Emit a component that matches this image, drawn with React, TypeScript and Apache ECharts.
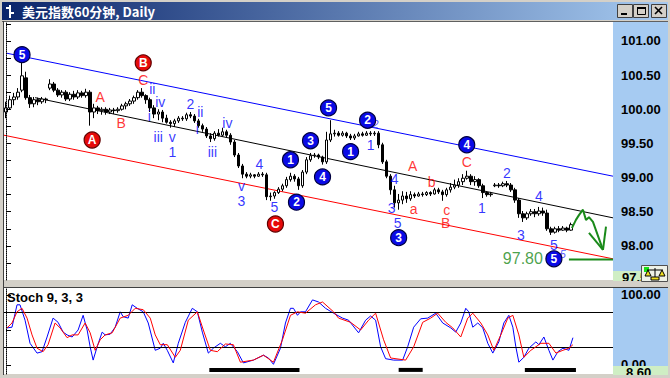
import React, { useEffect, useRef } from 'react';
import * as echarts from 'echarts';

const FONT = "'Liberation Sans', Arial, sans-serif";
const CJK = "'Noto Sans CJK SC', 'Liberation Sans', sans-serif";

// bar slots on the time axis (the right part is left empty for the projection)
const BAR_SLOTS = 152;
const slotLabels = Array.from({ length: BAR_SLOTS }, (_, i) => `${i}`);

// hourly bars: [open, close, low, high]
const ohlc: number[][] = [
  [99.96,100.02,99.87,100.11],[100.02,100.14,99.99,100.20],[100.14,100.18,100.06,100.24],[100.18,100.25,100.14,100.31],
  [100.28,100.49,100.25,100.68],[100.46,100.17,100.14,100.55],[100.17,100.08,100.02,100.21],[100.08,100.14,100.03,100.18],
  [100.14,100.11,100.06,100.17],[100.11,100.15,100.08,100.18],[100.15,100.14,100.09,100.17],[100.31,100.37,100.28,100.44],
  [100.37,100.28,100.25,100.40],[100.28,100.21,100.18,100.31],[100.21,100.25,100.17,100.28],[100.25,100.15,100.12,100.28],
  [100.15,100.22,100.12,100.25],[100.22,100.18,100.14,100.27],[100.18,100.24,100.15,100.28],[100.24,100.20,100.17,100.27],
  [100.20,100.25,100.17,100.30],[100.25,99.96,99.76,100.28],[99.96,100.02,99.87,100.08],[100.02,99.98,99.93,100.05],
  [99.98,100.00,99.92,100.03],[100.00,99.96,99.92,100.03],[99.96,99.99,99.93,100.02],[99.99,99.98,99.93,100.02],
  [99.98,100.00,99.95,100.03],[100.00,100.05,99.98,100.08],[100.05,100.08,100.00,100.11],[100.08,100.12,100.05,100.15],
  [100.12,100.17,100.08,100.20],[100.17,100.25,100.14,100.28],[100.25,100.20,100.17,100.31],[100.20,100.14,100.08,100.22],
  [100.14,100.02,99.96,100.17],[100.02,99.93,99.87,100.06],[99.93,99.96,99.84,100.00],[99.96,99.87,99.81,99.99],
  [99.87,99.81,99.79,99.92],[99.81,99.79,99.73,99.84],[99.79,99.83,99.74,99.86],[99.83,99.87,99.80,99.90],
  [99.87,99.86,99.83,99.90],[99.86,99.92,99.83,99.95],[99.92,99.90,99.87,99.96],[99.90,99.83,99.80,99.93],
  [99.83,99.76,99.73,99.86],[99.76,99.71,99.67,99.79],[99.71,99.61,99.58,99.74],[99.61,99.57,99.52,99.65],
  [99.57,99.65,99.54,99.68],[99.65,99.62,99.60,99.71],[99.62,99.67,99.60,99.73],[99.67,99.62,99.58,99.70],
  [99.62,99.52,99.48,99.65],[99.52,99.33,99.30,99.55],[99.33,99.17,99.14,99.36],[99.17,99.05,98.99,99.20],
  [99.05,99.02,98.99,99.08],[99.02,99.04,98.99,99.07],[99.04,99.02,98.99,99.05],[99.02,99.05,99.01,99.08],
  [99.05,99.04,99.01,99.08],[99.04,98.72,98.67,99.07],[98.72,98.73,98.66,98.78],[98.73,98.78,98.69,98.80],
  [98.78,98.83,98.76,98.86],[98.83,98.88,98.80,98.91],[98.88,98.97,98.85,99.01],[98.97,99.02,98.94,99.07],
  [99.02,98.98,98.94,99.05],[98.98,98.88,98.82,99.01],[98.88,99.08,98.85,99.11],[99.08,99.26,99.05,99.30],
  [99.26,99.32,99.23,99.36],[99.32,99.33,99.29,99.36],[99.33,99.30,99.27,99.35],[99.30,99.23,99.19,99.32],
  [99.23,99.55,99.20,99.67],[99.55,99.64,99.52,99.84],[99.64,99.65,99.60,99.70],[99.65,99.62,99.60,99.68],
  [99.62,99.65,99.60,99.68],[99.65,99.61,99.58,99.67],[99.61,99.58,99.55,99.64],[99.58,99.61,99.55,99.64],
  [99.61,99.64,99.60,99.67],[99.64,99.62,99.60,99.67],[99.62,99.65,99.61,99.68],[99.65,99.64,99.61,99.68],
  [99.64,99.65,99.61,99.68],[99.65,99.48,99.43,99.68],[99.48,99.23,99.20,99.51],[99.23,99.02,98.99,99.26],
  [99.02,98.82,98.75,99.05],[98.82,98.63,98.56,98.88],[98.63,98.67,98.53,98.76],[98.67,98.73,98.61,98.80],
  [98.73,98.69,98.63,98.79],[98.69,98.75,98.66,98.80],[98.75,98.73,98.70,98.78],[98.73,98.76,98.72,98.79],
  [98.76,98.75,98.72,98.79],[98.75,98.78,98.73,98.80],[98.78,98.76,98.73,98.80],[98.76,98.82,98.75,98.85],
  [98.82,98.79,98.76,98.85],[98.79,98.75,98.66,98.82],[98.75,98.82,98.72,98.85],[98.82,98.86,98.78,98.92],
  [98.86,98.89,98.83,98.97],[98.89,98.94,98.85,98.99],[98.94,98.99,98.89,99.05],[98.99,99.02,98.97,99.10],
  [99.02,98.94,98.89,99.05],[98.94,98.97,98.88,99.02],[98.97,98.88,98.85,98.99],[98.88,98.78,98.70,98.91],
  [98.78,98.75,98.72,98.80],[98.75,98.76,98.72,98.79],[98.88,98.89,98.86,98.92],[98.89,98.88,98.85,98.92],
  [98.88,98.91,98.86,98.94],[98.91,98.89,98.86,98.95],[98.89,98.82,98.79,98.92],[98.82,98.67,98.63,98.85],
  [98.67,98.47,98.41,98.70],[98.47,98.41,98.35,98.51],[98.41,98.47,98.38,98.50],[98.47,98.50,98.44,98.54],
  [98.50,98.47,98.42,98.54],[98.47,98.51,98.44,98.57],[98.51,98.48,98.44,98.56],[98.48,98.25,98.22,98.53],
  [98.25,98.20,98.16,98.28],[98.20,98.25,98.18,98.28],[98.25,98.23,98.20,98.29],[98.23,98.26,98.22,98.29],
  [98.26,98.23,98.20,98.28],[98.23,98.31,98.22,98.34],
];

// channel lines [barIndex, price]
const upperChannel = [[0.25, 100.82], [151.5, 99.02]];
const middleChannel = [[7.25, 100.17], [151.5, 98.41]];
const lowerChannel = [[-0.5, 99.62], [151.5, 97.81]];

// projected path and target
const projection = [[141.25, 98.26], [142.25, 98.38], [143, 98.45], [144, 98.53], [144.75, 98.38], [145.5, 98.42], [146.5, 98.35], [149, 97.94]];
const arrowLeft = [[145.5, 98.19], [149, 97.94]];
const arrowRight = [[149.75, 98.28], [149, 97.94]];
const targetPrice = 97.8;
const targetSpan = [140.5, 151.5];

// wave annotations [barIndex, price, text]
const blueCircles: [number, number, string][] = [
  [4, 100.8, '5'], [80.5, 100.02, '5'], [76, 99.54, '3'], [90.25, 99.84, '2'], [86, 99.38, '1'],
  [79, 99.01, '4'], [71, 99.26, '1'], [72.5, 98.64, '2'], [115, 99.48, '4'], [98, 98.12, '3'], [136.75, 97.81, '5'],
];
const redCircles: [number, number, string][] = [
  [34.25, 100.68, 'B'], [21.5, 99.55, 'A'], [67.25, 98.32, 'C'],
];
const blueTexts: [number, number, string][] = [
  [36.5, 100.3, 'ii'], [38.5, 100.11, 'iv'], [35.75, 99.9, 'i'], [38, 99.59, 'iii'], [41.5, 99.59, 'v'],
  [41.5, 99.38, '1'], [46, 100.08, '2'], [48.5, 99.96, 'ii'], [47.75, 99.71, 'i'], [51.5, 99.38, 'iii'],
  [55.25, 99.8, 'iv'], [63.25, 99.2, '4'], [58.75, 98.87, 'v'], [58.75, 98.65, '3'], [67, 98.57, '5'],
  [91, 99.48, '1'], [97, 98.98, '4'], [96.25, 98.56, '3'], [97.75, 98.34, '5'], [125, 99.07, '2'],
  [118.75, 98.56, '1'], [133, 98.73, '4'], [128.5, 98.16, '3'], [136.75, 98.01, '5'],
];
const blueSmallTexts: [number, number, string][] = [[92.25, 99.79, '2'], [139, 97.88, '5']];
const redTexts: [number, number, string][] = [
  [34.25, 100.43, 'C'], [23.5, 100.18, 'A'], [28.75, 99.8, 'B'], [101.5, 99.17, 'A'], [106.25, 98.94, 'b'],
  [101.75, 98.54, 'a'], [110, 98.52, 'c'], [109.75, 98.33, 'B'], [115, 99.23, 'C'],
];
const targetLabel: [number, number, string][] = [[129, 97.82, '97.80']];

// price axis
const priceMin = 97.5;
const priceMax = 101.278;
const priceLabels = [98, 98.5, 99, 99.5, 100, 100.5, 101];
const priceTicks = [97.75, 98, 98.25, 98.5, 98.75, 99, 99.25, 99.5, 99.75, 100, 100.25, 100.5, 100.75, 101, 101.25];

// Stoch 9,3,3  [barIndex, value]
const stochK = [
  [0.25,53],[1.5,54],[2.75,86],[3.5,86],[4.75,64],[6,31],[7.75,17],[9,19],[10.25,40],[11.75,67],[13,61],[14.25,47],
  [15.25,43],[16.5,40],[18,50],[19.25,71],[20.25,50],[21,26],[21.75,7],[22.75,26],[24,47],[24.75,43],[26,44],
  [27.25,54],[28.5,76],[29.25,69],[30.5,67],[31.5,86],[32.75,81],[34.25,76],[35.5,60],[37.25,21],[38.5,24],
  [39.25,31],[40.25,21],[41.75,3],[43,31],[44.75,61],[46.5,81],[47.75,76],[49,47],[50.5,17],[51.75,24],[53.5,31],
  [54.75,26],[56,31],[57.75,19],[59.25,3],[61.75,7],[64.25,14],[65.5,10],[66.75,1],[68.5,24],[69.75,60],[71,81],
  [71.75,81],[72.75,71],[73.5,76],[74.75,76],[76.5,93],[78,90],[79.75,81],[81.75,74],[84,67],[85.5,64],[88,46],
  [89.75,64],[91,70],[92.25,64],[93.5,26],[94.75,9],[96.75,7],[99,7],[100.25,26],[101.75,54],[103.5,66],[105.25,67],
  [107.25,74],[109,60],[111,53],[112.25,47],[113.5,60],[114.75,81],[115.5,76],[116.5,54],[117.75,60],[119,53],
  [120.25,31],[121.5,17],[123,33],[124.25,60],[125.5,71],[126.5,54],[127.25,26],[128,4],[129.25,11],[130.5,24],
  [132.25,33],[133,29],[134.25,40],[135.5,21],[136.5,7],[137.75,19],[139,24],[140.5,21],[141.5,39],
];
const stochD = [
  [0.25,53],[1.5,60],[2.75,76],[4,81],[5.25,67],[6.5,43],[7.75,24],[9.25,19],[10.5,29],[12.25,60],[13.5,53],
  [15.25,39],[16.5,43],[18,43],[19.75,60],[21,46],[22.25,21],[23.5,36],[24.75,43],[26.5,46],[28.5,67],[30.5,71],
  [32.25,81],[34.25,79],[36,67],[37.25,43],[38.5,29],[40.25,29],[42.25,11],[43.5,21],[45.5,64],[47.75,76],[49.25,50],
  [51,21],[52.75,19],[54.75,30],[56.75,29],[58.5,4],[61.75,7],[64.25,14],[66.75,4],[69,36],[71,71],[72.75,76],
  [74.75,74],[77.25,86],[79,90],[81.75,76],[83,67],[86,61],[88.5,50],[90.5,64],[92.25,74],[94.25,36],[96,10],
  [99.75,7],[101.75,26],[104,61],[106,67],[107.75,74],[109.75,61],[111.5,53],[113.5,40],[115.25,67],[116.5,74],
  [118.5,60],[120.25,43],[121.75,21],[123.5,43],[125.25,67],[126.5,71],[128,43],[129.25,11],[131,21],[133.5,31],
  [135.5,31],[137.25,17],[139,21],[140.5,24],[141.5,29],
];
const stochLevels = [75, 25];
const stochBars = [[50.75, 73.25], [98, 104], [129.5, 142.25]];
const stochBarLevel = -7;
const stochMin = -12.86;
const stochMax = 110;
const stochLabels = [0, 100];
const stochTicks = [0, 25, 50, 75, 100];

const BLUE = '#0000ff';
const RED = '#ff0000';
const GREEN = '#1a8a1a';

function textSeries(items: [number, number, string][], color: string, size: number, extra: any = {}) {
  return {
    type: 'scatter', xAxisIndex: 1, yAxisIndex: 0, z: 6, silent: true,
    symbol: 'circle', symbolSize: 1, itemStyle: { color: 'rgba(0,0,0,0)' },
    label: { show: true, position: 'inside', formatter: '{b}', color, fontSize: size, fontFamily: FONT, ...extra },
    data: items.map(([x, y, t]) => ({ value: [x, y], name: t })),
  };
}

function circleSeries(items: [number, number, string][], fill: string, border: string) {
  return {
    type: 'scatter', xAxisIndex: 1, yAxisIndex: 0, z: 7, silent: true,
    symbol: 'circle', symbolSize: 16,
    itemStyle: { color: fill, borderColor: border, borderWidth: 1.2, opacity: 1 },
    label: { show: true, position: 'inside', formatter: '{b}', color: '#fff', fontSize: 12, fontWeight: 'bold', fontFamily: FONT },
    data: items.map(([x, y, t]) => ({ value: [x, y], name: t })),
  };
}

function lineSeries(data: number[][], color: string, width: number, xAxisIndex = 1, yAxisIndex = 0, z = 4) {
  return {
    type: 'line', xAxisIndex, yAxisIndex, z, silent: true, symbol: 'none',
    lineStyle: { color, width }, data,
  };
}

export default function App() {
  const ref = useRef<HTMLDivElement>(null);
  useEffect(() => {
    if (!ref.current) return;
    const chart = echarts.init(ref.current, undefined, { renderer: 'svg' });
    const t = (text: string, x: number, y: number, font: string, fill: string, z = 50, align = 'left', va = 'middle') => ({
      type: 'text', z, silent: true,
      style: { text, x, y, font, fill, align, textAlign: align, verticalAlign: va, textVerticalAlign: va },
    });
    const r = (x: number, y: number, w: number, h: number, fill: any, z = 50, stroke?: string, lw = 1) => ({
      type: 'rect', z, silent: true, shape: { x, y, width: w, height: h },
      style: stroke ? { fill, stroke, lineWidth: lw } : { fill },
    });
    const l = (x1: number, y1: number, x2: number, y2: number, stroke: string, lw = 1, z = 50) => ({
      type: 'line', z, silent: true, shape: { x1, y1, x2, y2 },
      style: { stroke, lineWidth: lw },
    });

    const option: any = {
      animation: false,
      backgroundColor: 'transparent',
      grid: [
        { left: 4, right: 57, top: 22, height: 258, show: true, backgroundColor: '#ffffff', borderWidth: 0 },
        { left: 4, right: 57, top: 288, height: 86, show: true, backgroundColor: '#ffffff', borderWidth: 0 },
      ],
      xAxis: [
        { type: 'category', gridIndex: 0, data: slotLabels, show: false, boundaryGap: true },
        { type: 'value', gridIndex: 0, min: -0.5, max: BAR_SLOTS - 0.5, show: false },
        { type: 'value', gridIndex: 1, min: -0.5, max: BAR_SLOTS - 0.5, show: false },
      ],
      yAxis: [
        {
          type: 'value', gridIndex: 0, position: 'right', min: priceMin, max: priceMax, z: 10,
          axisLine: { show: true, lineStyle: { color: '#000', type: 'dotted', width: 1 } },
          axisTick: { show: true, length: 5, customValues: priceTicks, lineStyle: { color: '#000' } },
          axisLabel: {
            customValues: priceLabels, formatter: (v: number) => v.toFixed(2), color: '#000',
            fontWeight: 'bold', fontSize: 13, fontFamily: FONT, margin: 8,
          },
          splitLine: { show: false },
        },
        {
          type: 'value', gridIndex: 1, position: 'right', min: stochMin, max: stochMax, z: 10,
          axisLine: { show: true, lineStyle: { color: '#000', type: 'dotted', width: 1 } },
          axisTick: { show: true, length: 5, customValues: stochTicks, lineStyle: { color: '#000' } },
          axisLabel: {
            customValues: stochLabels, formatter: (v: number) => v.toFixed(2), color: '#000',
            fontWeight: 'bold', fontSize: 13, fontFamily: FONT, margin: 8,
          },
          splitLine: { show: false },
        },
      ],
      series: [
        lineSeries(upperChannel, '#0000ff', 1),
        lineSeries(middleChannel, '#000000', 1),
        lineSeries(lowerChannel, '#ff0000', 1),
        {
          type: 'candlestick', xAxisIndex: 0, yAxisIndex: 0, z: 5, silent: true,
          barWidth: 3,
          itemStyle: { color: '#ffffff', color0: '#000000', borderColor: '#000000', borderColor0: '#000000', borderWidth: 1 },
          data: ohlc,
        },
        lineSeries(projection, GREEN, 2, 1, 0, 6),
        lineSeries(arrowLeft, GREEN, 2, 1, 0, 6),
        lineSeries(arrowRight, GREEN, 2, 1, 0, 6),
        lineSeries(targetSpan.map((x) => [x, targetPrice]), GREEN, 2, 1, 0, 6),
        textSeries(blueTexts, BLUE, 14),
        textSeries(blueSmallTexts, '#2a2aff', 11, { fontStyle: 'italic' }),
        textSeries(redTexts, RED, 14),
        textSeries(targetLabel, GREEN, 16),
        circleSeries(blueCircles, '#0a0ae6', '#000040'),
        circleSeries(redCircles, '#e60a0a', '#600000'),
        {
          type: 'line', xAxisIndex: 2, yAxisIndex: 1, z: 4, silent: true, symbol: 'none',
          lineStyle: { color: '#0000ff', width: 1 }, data: stochK,
          markLine: {
            silent: true, symbol: ['none', 'none'], label: { show: false },
            lineStyle: { color: '#000', type: 'solid', width: 1 },
            data: stochLevels.map((v) => ({ yAxis: v })),
          },
        },
        {
          type: 'line', xAxisIndex: 2, yAxisIndex: 1, z: 5, silent: true, symbol: 'none',
          lineStyle: { color: '#ff0000', width: 1 }, data: stochD,
        },
        ...stochBars.map(([a, b]) => lineSeries([[a, stochBarLevel], [b, stochBarLevel]], '#000000', 4, 2, 1, 5)),
      ],
      graphic: {
        elements: [
          // title bar
          r(2, 2, 666, 18, new echarts.graphic.LinearGradient(0, 0, 1, 0, [
            { offset: 0, color: '#0a246a' }, { offset: 1, color: '#a6caf0' },
          ]), 50),
          l(10, 5, 10, 18, '#ffffff', 2),
          l(6, 8, 10, 8, '#ffffff', 2),
          l(10, 13, 14, 13, '#ffffff', 2),
          t('美元指数60分钟, Daily', 22, 11.5, `bold 13px ${CJK}`, '#ffffff'),
          // window buttons
          r(617.5, 4.5, 15, 13, '#d4d0c8', 50, '#404040'),
          r(633.5, 4.5, 15, 13, '#d4d0c8', 50, '#404040'),
          r(651.5, 4.5, 15, 13, '#d4d0c8', 50, '#404040'),
          r(621, 13, 6, 2, '#000000', 51),
          r(637.5, 7.5, 8, 7, 'none', 51, '#000000'),
          r(637, 7, 9, 2, '#000000', 51),
          l(655, 7, 662, 14, '#000000', 1.6, 51),
          l(662, 7, 655, 14, '#000000', 1.6, 51),
          // frame lines
          l(2, 21.5, 668, 21.5, '#606060', 1),
          l(3.5, 21, 3.5, 376, '#404040', 1),
          // axis panels
          r(613, 22, 55, 259, '#a6cbf2', 1),
          r(613, 288, 55, 86, '#a6cbf2', 1),
          // lower-left price box and icon
          r(613, 271, 28, 11, '#cfeec4', 2),
          t('97.50', 622, 271, `bold 13px ${FONT}`, '#000000', 3, 'left', 'top'),
          r(641.5, 265.5, 26, 16, '#eef2e8', 45, '#505050'),
          r(644, 267, 5, 5, '#18e018', 46),
          l(655, 268, 655, 279, '#000000', 1, 46),
          l(647, 270, 663, 270, '#000000', 1, 46),
          { type: 'polygon', z: 46, silent: true, shape: { points: [[645, 276], [651, 276], [648, 270]] }, style: { fill: '#f0e020', stroke: '#000000', lineWidth: 1 } },
          { type: 'polygon', z: 46, silent: true, shape: { points: [[659, 276], [665, 276], [662, 270]] }, style: { fill: '#f0e020', stroke: '#000000', lineWidth: 1 } },
          r(651, 277, 8, 3, '#f0e020', 46, '#000000'),
          // separator between panels
          r(0, 281, 670, 6, '#d4d0c8', 40),
          l(3, 287.5, 668, 287.5, '#404040', 1, 41),
          t('Stoch 9, 3, 3', 7, 297, `bold 13px ${FONT}`, '#000000'),
          // stoch current value box
          r(613, 366, 55, 12, '#cfeec4', 30),
          t('8.60', 626, 366, `bold 13px ${FONT}`, '#000000', 31, 'left', 'top'),
          r(0, 375, 670, 3, '#d4d0c8', 60),
          r(668, 0, 2, 378, '#d4d0c8', 60),
        ],
      },
    };
    chart.setOption(option);
    return () => chart.dispose();
  }, []);
  return (
    <div
      ref={ref}
      style={{ position: 'fixed', left: 0, top: 0, width: 670, height: 378, background: '#d4d0c8' }}
    />
  );
}
